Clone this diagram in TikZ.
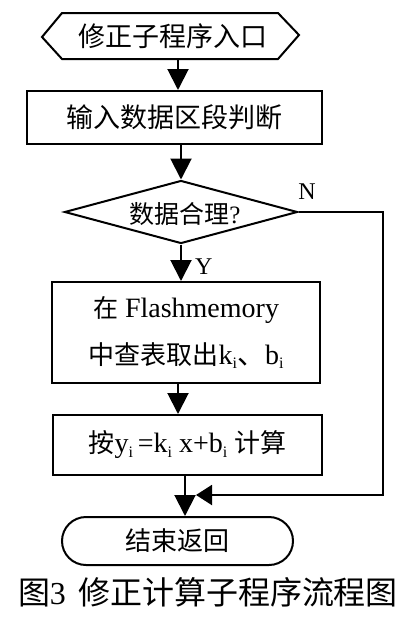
\documentclass[tikz,border=0pt]{standalone}
\usepackage{fontspec}
\setmainfont{Liberation Serif}
\newfontfamily\cjk{Noto Sans CJK SC}
\usetikzlibrary{arrows.meta,shapes.geometric,shapes.misc}
\newcommand\sbi{\raisebox{-0.35ex}{\fontsize{16}{16}\selectfont i}}
\begin{document}
\begin{tikzpicture}[x=1pt,y=-1pt,line width=2pt,
  box/.style={draw,rectangle,inner sep=0pt,font=\fontsize{28}{32}\selectfont},
  arr/.style={-{Triangle[length=21pt,width=21pt]}},
  arrl/.style={-{Triangle[length=16pt,width=20pt]}},
  lbl/.style={font=\fontsize{24}{24}\selectfont, inner sep=0pt}]
\useasboundingbox (0,0) rectangle (417,621);
% start
\node[font=\fontsize{27}{32}\selectfont\cjk, minimum width=214pt, minimum height=44pt, inner sep=0pt] (start) at (170,36) {\hspace{6pt}修正子程序入口};
\draw (start.north west) -- (start.north east) -- ++(21,22) -- (start.south east) -- (start.south west) -- ++(-20,-22) -- cycle;
% input box
\node[box, minimum width=295pt, minimum height=53pt, font=\fontsize{27}{32}\selectfont\cjk] (inp) at (174.5,117.5) {输入数据区段判断};
% decision
\node[draw, diamond, minimum width=233pt, minimum height=63pt, inner sep=0pt] (dec) at (181,212) {};
\node[font=\fontsize{25}{28}\selectfont, inner sep=0pt] (dect) at (185,214) {{\cjk 数据合理}?};
% table box
\node[box, minimum width=268pt, minimum height=101pt, align=center, font=\fontsize{28}{47}\selectfont] (tab) at (186,332.5) {{\fontsize{25}{25}\selectfont\cjk 在} Flashmemory\\{\fontsize{26}{26}\selectfont\cjk 中查表取出}k\sbi{\cjk 、}b\sbi};
% calc box
\node[box, minimum width=269pt, minimum height=60pt] (calc) at (187.5,445) {{\fontsize{26}{26}\selectfont\cjk 按}y\sbi\,=k\sbi\ x+b\sbi\ {\fontsize{26}{26}\selectfont\cjk 计算}};
% end
\node[draw, rounded rectangle, minimum width=231pt, minimum height=48pt, inner sep=0pt, font=\fontsize{26}{30}\selectfont\cjk] (end) at (177.5,541) {结束返回};
% caption
\node[font=\fontsize{32}{36}\selectfont, inner sep=0pt] (cap) at (208,592) {{\cjk 图}3\hspace{12pt}{\cjk 修正计算子程序流程图}};
% labels
\node[lbl, anchor=west] (ylab) at (194,267) {Y};
\node[lbl] (nlab) at (307,192) {N};
% connectors
\coordinate (ax) at (178,0);
\coordinate (mx) at (185,0);
\coordinate (rc) at (383,495);
\coordinate (mp) at (196,495);
\draw[arr] (start.south -| ax) -- (inp.north -| ax);
\draw[arr] (inp.south -| dec.north) -- (dec.north);
\draw[arr] (dec.south) -- (tab.north -| dec.south);
\draw[arr] (tab.south -| ax) -- (calc.north -| ax);
\draw[arr] (calc.south -| mx) -- (end.north -| mx);
\draw[arrl] (dec.east) -| (rc) -- (mp);
\end{tikzpicture}
\end{document}
